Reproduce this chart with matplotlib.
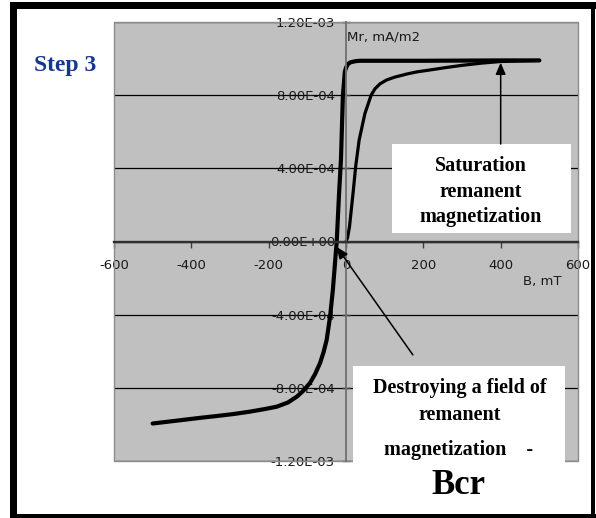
import matplotlib
matplotlib.use("Agg")
import matplotlib.pyplot as plt
from matplotlib.patches import Rectangle
from matplotlib.ticker import FixedLocator, FuncFormatter

# backfield curve (saturation -> reverse field)
B1 = [-500, -460, -420, -377, -334, -290, -248, -210, -179, -150, -127, -110,
      -93, -80, -67, -58, -50, -41, -34, -24, -18, -13, -8, -3, 0, 5, 12, 25,
      36, 100, 200, 300, 400, 500]
M1 = [-9.95e-4, -9.85e-4, -9.75e-4, -9.64e-4, -9.54e-4, -9.43e-4, -9.30e-4,
      -9.16e-4, -9.03e-4, -8.80e-4, -8.48e-4, -8.15e-4, -7.73e-4, -7.25e-4,
      -6.64e-4, -6.05e-4, -5.38e-4, -4.07e-4, -2.65e-4, 0.0, 2.6e-4, 4.5e-4,
      8.0e-4, 9.28e-4, 9.5e-4, 9.7e-4, 9.8e-4, 9.86e-4, 9.88e-4, 9.88e-4,
      9.88e-4, 9.89e-4, 9.9e-4, 9.9e-4]

# acquisition curve
B2 = [0, 4, 9, 19, 25, 34, 49, 65, 75, 88, 105, 125, 160, 185, 215, 255, 300,
      350, 400, 500]
M2 = [0.0, 0.2e-4, 0.8e-4, 2.8e-4, 4.1e-4, 5.55e-4, 7.0e-4, 8.0e-4, 8.35e-4,
      8.62e-4, 8.83e-4, 8.98e-4, 9.17e-4, 9.28e-4, 9.37e-4, 9.5e-4, 9.63e-4,
      9.75e-4, 9.84e-4, 9.9e-4]

x_ticks = [-600, -400, -200, 0, 200, 400, 600]
y_ticks = [-1.2e-3, -8e-4, -4e-4, 0.0, 4e-4, 8e-4, 1.2e-3]

W, H = 596, 518
fig = plt.figure(figsize=(W / 100, H / 100), dpi=100)
fig.patch.set_facecolor("white")

ax = fig.add_axes([114 / W, (H - 461) / H, 464 / W, 439 / H])
ax.set_facecolor("#c0c0c0")
ax.set_xlim(-600, 600)
ax.set_ylim(-1.2e-3, 1.2e-3)

# spines crossing at the origin
for s in ["top", "right"]:
    ax.spines[s].set_visible(False)
ax.spines["left"].set_position(("data", 0))
ax.spines["bottom"].set_position(("data", 0))
ax.spines["left"].set_color("#707070")
ax.spines["left"].set_linewidth(1.3)
ax.spines["bottom"].set_color("#303030")
ax.spines["bottom"].set_linewidth(1.7)

# plot-area border
ax.add_patch(Rectangle((0, 0), 1, 1, transform=ax.transAxes, fill=False,
                       edgecolor="#8c8c8c", lw=1.0, zorder=0.6, clip_on=False))

ax.xaxis.set_major_locator(FixedLocator(x_ticks))
ax.yaxis.set_major_locator(FixedLocator(y_ticks))
ax.xaxis.set_major_formatter(FuncFormatter(lambda v, p: f"{int(round(v))}"))
ax.yaxis.set_major_formatter(FuncFormatter(lambda v, p: f"{v:.2E}"))
ax.tick_params(axis="x", direction="out", length=4.3, width=1, color="#404040",
               pad=8, labelsize=9.5, labelcolor="#1a1a1a")
ax.tick_params(axis="y", direction="inout", length=6, width=1, color="#404040",
               pad=5, labelsize=9.5, labelcolor="#1a1a1a")
for lab in ax.get_xticklabels() + ax.get_yticklabels():
    lab.set_fontfamily("DejaVu Sans")

ax.set_axisbelow(True)
ax.yaxis.grid(True, color="black", lw=0.9)

ax.plot(B1, M1, color="black", lw=3.0, solid_joinstyle="round",
        solid_capstyle="round", zorder=2)
ax.plot(B2, M2, color="black", lw=2.3, solid_joinstyle="round",
        solid_capstyle="round", zorder=2)

# axis titles
ax.text(3, 1.12e-3, "Mr, mA/m2", fontsize=9.5, family="DejaVu Sans",
        color="#1a1a1a", ha="left", va="center")
ax.text(458, -2.16e-4, "B, mT", fontsize=9.5, family="DejaVu Sans",
        color="#1a1a1a", ha="left", va="center")

# white callout boxes
ax.add_patch(Rectangle((119, 0.46e-4), 462, 4.87e-4, facecolor="white",
                       edgecolor="none", zorder=1))
ax.add_patch(Rectangle((18, -1.25e-3), 548, 5.7e-4, facecolor="white",
                       edgecolor="none", zorder=1, clip_on=False))

bold = dict(family="Liberation Serif", fontweight="bold", color="black",
            ha="center", va="center", zorder=4)
ax.text(349, 4.13e-4, "Saturation", fontsize=14.5, **bold)
ax.text(349, 2.71e-4, "remanent", fontsize=14.5, **bold)
ax.text(349, 1.34e-4, "magnetization", fontsize=14.5, **bold)

ax.text(295, -8.0e-4, "Destroying a field of", fontsize=14.5, **bold)
ax.text(295, -9.48e-4, "remanent", fontsize=14.5, **bold)
ax.text(292, -1.14e-3, "magnetization    -", fontsize=14.5, **bold)
ax.text(290, -1.335e-3, "Bcr", fontsize=25, clip_on=False, **bold)

# arrows
ax.annotate("", xy=(400, 9.78e-4), xytext=(400, 5.33e-4),
            arrowprops=dict(arrowstyle="-|>,head_length=0.7,head_width=0.3",
                            color="black", lw=1.1, shrinkA=0, shrinkB=0),
            zorder=3)
ax.annotate("", xy=(-24, -3e-5), xytext=(173, -6.2e-4),
            arrowprops=dict(arrowstyle="-|>,head_length=0.7,head_width=0.3",
                            color="black", lw=1.1, shrinkA=0, shrinkB=0),
            zorder=3)

fig.text(34 / W, 1 - 66 / H, "Step 3", family="Liberation Serif",
         fontweight="bold", fontsize=17, color="#17378f", ha="left",
         va="center")

# black picture frame
def bar(x0, y0, x1, y1):
    fig.patches.append(Rectangle((x0 / W, 1 - y1 / H), (x1 - x0) / W,
                                 (y1 - y0) / H, transform=fig.transFigure,
                                 facecolor="black", edgecolor="none"))

bar(10, 2, 596, 9)
bar(10, 2, 17, 518)
bar(591, 2, 595, 518)
bar(10, 514, 596, 518)

fig.savefig("out.png", dpi=100)
